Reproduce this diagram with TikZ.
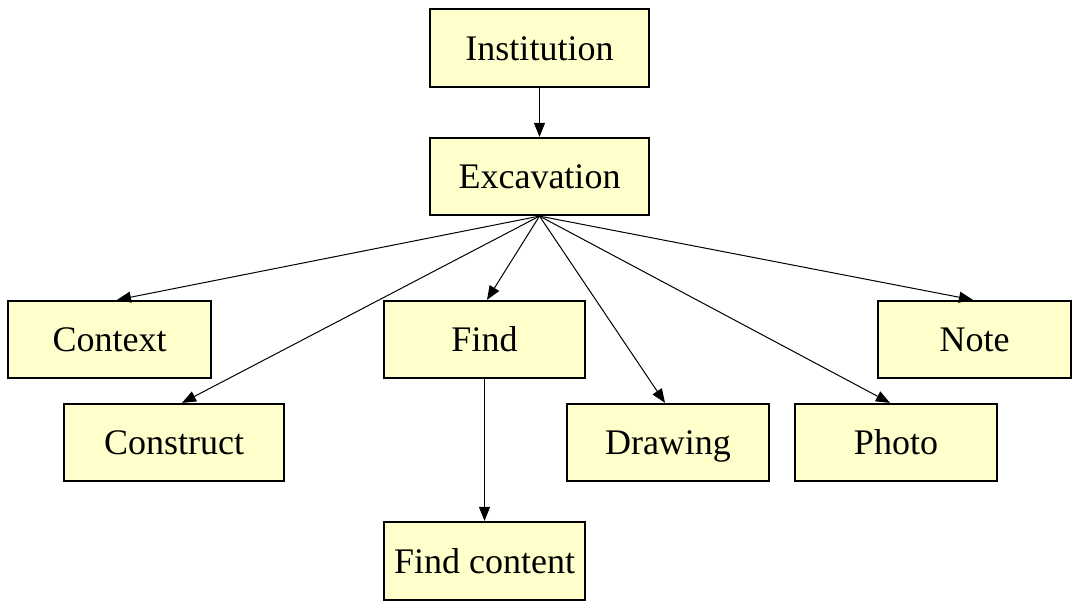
\documentclass[tikz,border=0pt]{standalone}
\usepackage{fontspec}
\setmainfont{Liberation Serif}
\usetikzlibrary{arrows.meta,calc}
\definecolor{boxfill}{RGB}{255,255,204}
\tikzset{
  entity/.style={draw=black, line width=2.2pt, fill=boxfill, rectangle,
    minimum height=77pt, inner sep=0pt, text height=30pt, text depth=5pt,
    font=\fontsize{36}{42}\selectfont},
  link/.style={draw=black, line width=1pt, -{Triangle[length=14pt,width=11pt]}}
}
\begin{document}
\begin{tikzpicture}[x=1pt,y=-1pt]
\useasboundingbox (0,0) rectangle (1072,601);
\fill[white] (0,0) rectangle (1072,601);

\node[entity, minimum width=219pt, minimum height=78pt] (inst) at (539.5,48) {Institution};
\node[entity, minimum width=219pt] (exc) at (539.5,176.5) {Excavation};
\node[entity, minimum width=203pt] (ctx) at (109.5,339.5) {Context};
\node[entity, minimum width=201pt] (find) at (484.5,339.5) {Find};
\node[entity, minimum width=193pt] (note) at (974.5,339.5) {Note};
\node[entity, minimum width=220pt] (cons) at (174,442.5) {Construct};
\node[entity, minimum width=202pt] (draw) at (668,442.5) {Drawing};
\node[entity, minimum width=202pt] (photo) at (896,442.5) {Photo};
\node[entity, minimum width=201pt, minimum height=78pt] (fc) at (484.5,561) {Find content};

\draw[link] (inst.south) -- (exc.north);
\draw[link] (exc.south) -- ($(ctx.north)+(7.5,0)$);
\draw[link] (exc.south) -- ($(cons.north)+(8,0)$);
\draw[link] (exc.south) -- ($(find.north)+(2.5,0)$);
\draw[link] (exc.south) -- ($(draw.north)+(-3,0)$);
\draw[link] (exc.south) -- ($(photo.north)+(-6,0)$);
\draw[link] (exc.south) -- ($(note.north)+(-1.5,0)$);
\draw[link] (find.south) -- (fc.north);
\end{tikzpicture}
\end{document}
